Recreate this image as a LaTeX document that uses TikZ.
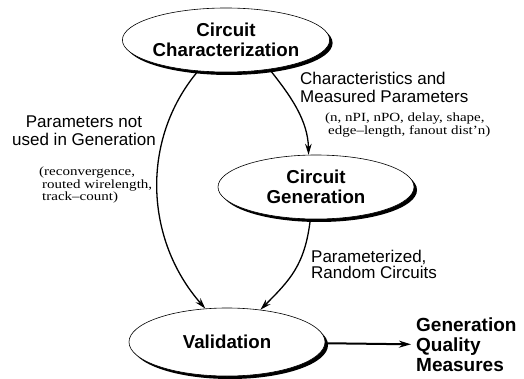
\documentclass[tikz,border=0pt]{standalone}
\usepackage{fontspec}
\setmainfont{Liberation Serif}
\setsansfont{Liberation Sans}
\newfontfamily\notefont[FakeStretch=1.2,Ligatures=TeX]{Liberation Serif}
\usetikzlibrary{shapes.geometric,arrows.meta}
\begin{document}
\begin{tikzpicture}[x=1pt,y=-1pt,
  proc/.style={ellipse,draw,line width=0.6pt,fill=white,minimum width=196pt,minimum height=64pt,
    inner sep=0pt,align=center,font=\sffamily\bfseries\fontsize{18.7}{20}\selectfont,
    preaction={fill=black,transform canvas={shift={(3pt,-3pt)}}}},
  lbl/.style={font=\sffamily\fontsize{17}{18}\selectfont,align=left,inner sep=0pt},
  note/.style={font=\notefont\fontsize{12.5}{13}\selectfont,align=left,inner sep=0pt},
  conn/.style={line width=1.3pt,-{Stealth[length=11pt,width=6.5pt]}}]
\useasboundingbox (0,0) rectangle (524,379);
\node[proc] (char) at (226,40) {Circuit\\Characterization};
\node[proc] (gen) at (316,187) {Circuit\\Generation};
\node[proc,minimum height=68pt] (val) at (227,342) {Validation};
\node[lbl,anchor=west] (cl) at (300,87) {Characteristics and\\Measured Parameters};
\node[note,anchor=west] (cn) at (325,125) {(n, nPI, nPO, delay, shape,\\\hspace*{3pt}edge--length, fanout dist’n)};
\node[lbl,align=center] (pl) at (84,131) {Parameters not\\used in Generation};
\node[note,anchor=west,font=\notefont\fontsize{12.5}{12.7}\selectfont] (pn) at (39,185) {(reconvergence,\\\hspace*{3pt}routed wirelength,\\\hspace*{3pt}track--count)};
\node[lbl,anchor=west,font=\sffamily\fontsize{17}{16}\selectfont] (rl) at (311,264) {Parameterized,\\Random Circuits};
\node[font=\sffamily\bfseries\fontsize{19}{20}\selectfont,align=left,anchor=west,inner sep=0pt] (gq) at (416,345) {Generation\\Quality\\Measures};
\draw[conn] (char.228) .. controls (140,140) and (145,240) .. (val.123);
\draw[conn] (char.326) .. controls (290,95) and (308,120) .. (gen.103);
\draw[conn] (gen.260) .. controls (305,265) and (290,280) .. (val.44);
\draw[line width=2pt,-{Stealth[length=12pt,width=7pt]},shorten >=5pt] (val) -- (gq);
\end{tikzpicture}
\end{document}
